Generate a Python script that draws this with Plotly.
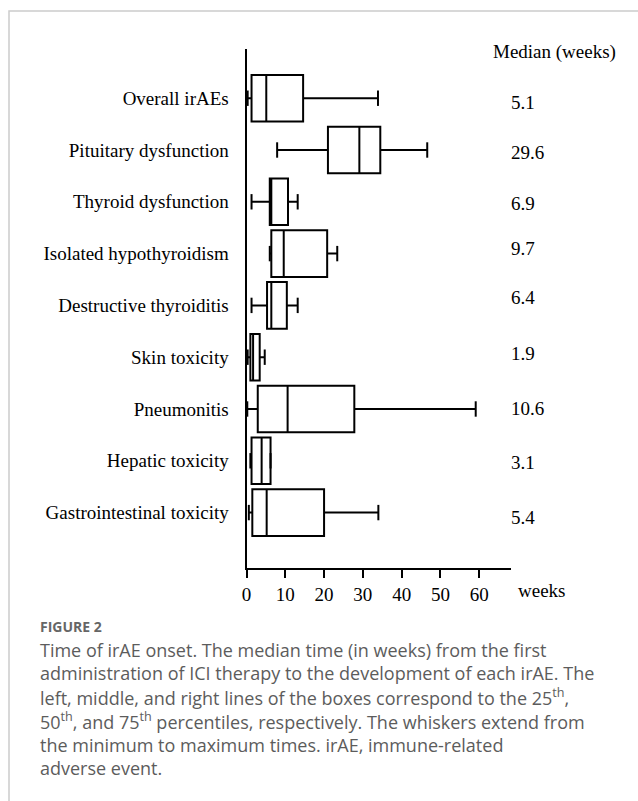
import plotly.graph_objects as go

# ---- data (weeks) ----
categories = ["Overall irAEs", "Pituitary dysfunction", "Thyroid dysfunction",
              "Isolated hypothyroidism", "Destructive thyroiditis", "Skin toxicity",
              "Pneumonitis", "Hepatic toxicity", "Gastrointestinal toxicity"]
mins    = [0.3, 7.9, 1.3, 6.0, 1.3, 0.3, 0.2, 1.0, 0.6]
q1s     = [1.3, 21.0, 6.0, 6.4, 5.3, 1.0, 2.9, 1.3, 1.5]
medians = [5.1, 29.1, 6.4, 9.6, 6.4, 1.7, 10.6, 3.9, 5.2]
q3s     = [14.6, 34.5, 10.7, 20.8, 10.4, 3.4, 27.8, 6.2, 20.0]
maxs    = [33.9, 46.6, 13.2, 23.4, 13.2, 4.7, 59.1, 6.2, 34.0]
median_labels = ["5.1", "29.6", "6.9", "9.7", "6.4", "1.9", "10.6", "3.1", "5.4"]
x_ticks = [0, 10, 20, 30, 40, 50, 60]

# style: small vertical nudges (px) of the median labels, as in the original layout
label_nudge = [-4, -2, -2, 5, 8, 4, 0, -2, -5]

W, H = 638, 801
# plot area in pixels
X0, X1 = 246.5, 511
Y0, Y1 = 49, 568

serif = "Liberation Serif, Times New Roman, serif"
FS = 19
fig = go.Figure()
fig.add_trace(go.Box(
    y=categories, q1=q1s, median=medians, q3=q3s,
    lowerfence=mins, upperfence=maxs,
    orientation="h", width=0.9, whiskerwidth=0,
    fillcolor="white", line=dict(color="black", width=2),
    boxpoints=False, showlegend=False, hoverinfo="skip",
))
# whisker caps
cap_x = []
cap_y = []
for c, lo, hi in zip(categories, mins, maxs):
    cap_x += [lo, hi]
    cap_y += [c, c]
fig.add_trace(go.Scatter(
    x=cap_x, y=cap_y, mode="markers",
    marker=dict(symbol="line-ns", size=11, line=dict(color="black", width=2)),
    showlegend=False, hoverinfo="skip", cliponaxis=False,
))

fig.update_layout(
    width=W, height=H, margin=dict(l=0, r=0, t=0, b=0),
    paper_bgcolor="white", plot_bgcolor="white",
    xaxis=dict(domain=[X0 / W, X1 / W], range=[0, 68.2], tickvals=x_ticks,
               showgrid=False, zeroline=False, showline=True, linecolor="black",
               linewidth=2, ticks="outside", ticklen=8, tickwidth=2, tickcolor="black",
               tickfont=dict(family=serif, size=FS, color="black"), automargin=False),
    yaxis=dict(domain=[1 - Y1 / H, 1 - Y0 / H], type="category",
               categoryorder="array", categoryarray=categories,
               range=[9.07, -0.95], showgrid=False, zeroline=False,
               showline=True, linecolor="black", linewidth=2, ticks="",
               ticklabelstandoff=12,
               tickfont=dict(family=serif, size=FS, color="black"), automargin=False),
)

anns = []
anns.append(dict(x=491 / W, y=1 - 52 / H, xref="paper", yref="paper", text="Median (weeks)",
                 showarrow=False, xanchor="left", yanchor="middle",
                 font=dict(family=serif, size=FS, color="black")))
for c, lab, dy in zip(categories, median_labels, label_nudge):
    anns.append(dict(x=509 / W, xref="paper", y=c, yref="y", text=lab, showarrow=False,
                     xanchor="left", yanchor="middle", yshift=dy,
                     font=dict(family=serif, size=FS, color="black")))
anns.append(dict(x=516 / W, y=1 - 590 / H, xref="paper", yref="paper", text="weeks",
                 showarrow=False, xanchor="left", yanchor="middle",
                 font=dict(family=serif, size=FS, color="black")))

cap_font = "Open Sans, Noto Sans, sans-serif"
anns.append(dict(x=38 / W, y=1 - 626 / H, xref="paper", yref="paper", text="<b>FIGURE 2</b>",
                 showarrow=False, xanchor="left", yanchor="middle",
                 font=dict(family=cap_font, size=14, color="#666666")))
cap_lines = [
    "Time of irAE onset. The median time (in weeks) from the first",
    "administration of ICI therapy to the development of each irAE. The",
    "left, middle, and right lines of the boxes correspond to the 25<sup>th</sup>,",
    "50<sup>th</sup>, and 75<sup>th</sup> percentiles, respectively. The whiskers extend from",
    "the minimum to maximum times. irAE, immune-related",
    "adverse event.",
]
cap_y = [650, 673, 697, 721, 745, 768]
for t, yy in zip(cap_lines, cap_y):
    anns.append(dict(x=38 / W, y=1 - yy / H, xref="paper", yref="paper", text=t,
                     showarrow=False, xanchor="left", yanchor="middle",
                     font=dict(family=cap_font, size=18, color="#5c5c5c")))
fig.update_layout(annotations=anns)

# light frame
fig.add_shape(type="path", xref="paper", yref="paper",
              path=f"M {9/W},0 L {9/W},{1-11/H} L 1.01,{1-11/H}",
              line=dict(color="#cccccc", width=1.5))

fig.write_html("out.html", config={"displayModeBar": False},
               post_script="document.body.style.margin='0';document.body.style.overflow='hidden';")
